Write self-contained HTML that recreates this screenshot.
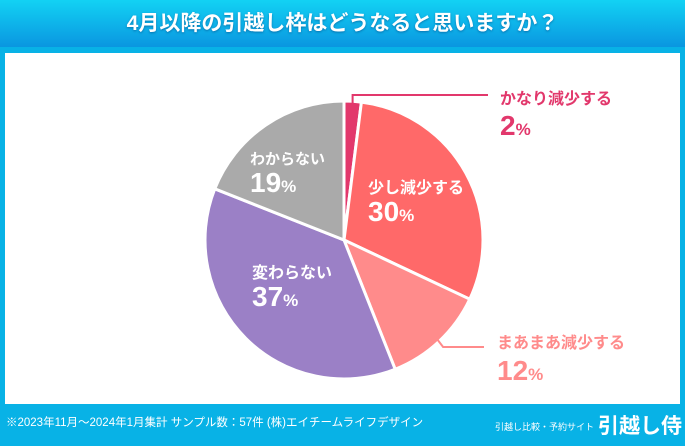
<!DOCTYPE html>
<html><head><meta charset="utf-8"><style>
body{margin:0;width:685px;height:446px;overflow:hidden;background:#08b2e6;font-family:"Liberation Sans","Noto Sans CJK JP",sans-serif;}
#hdr{position:absolute;left:0;top:0;width:685px;height:47px;background:linear-gradient(#12d2f4,#0a96e0);}
#title{position:absolute;left:0;top:7px;width:685px;text-align:center;color:#fff;font-size:21px;font-weight:bold;text-shadow:0 1px 2px rgba(0,60,120,.5);}
#card{position:absolute;left:5px;top:53px;width:675px;height:351px;background:#fff;}
#foot{position:absolute;left:6px;top:414px;color:#fff;font-size:11.5px;}
#brand{position:absolute;left:495px;top:410px;color:#fff;font-size:9px;}
#brand b{font-size:21px;margin-left:4px;vertical-align:-3px;}
svg{position:absolute;left:0;top:0;}
</style></head><body>
<div id="hdr"></div>
<div id="title">4月以降の引越し枠はどうなると思いますか？</div>
<div id="card"></div>
<svg id="chart" width="685" height="446"></svg>
<div id="foot">※2023年11月～2024年1月集計 サンプル数：57件 (株)エイチームライフデザイン</div>
<div id="brand">引越し比較・予約サイト<b>引越し侍</b></div>
<script>
const categories=["かなり減少する","少し減少する","まあまあ減少する","変わらない","わからない"];
const values=[2,30,12,37,19];
const colors=["#e2386c","#ff6969","#ff8b8b","#9b80c6","#aaaaaa"];
const svg=document.getElementById('chart');
const NS="http://www.w3.org/2000/svg";
const cx=344,cy=240,R=139;
const total=values.reduce((a,b)=>a+b,0);
function pt(a,r){return [cx+r*Math.sin(a),cy-r*Math.cos(a)];}
let acc=0;
const mids=[];
values.forEach((v,i)=>{
  const a0=acc/total*2*Math.PI; acc+=v; const a1=acc/total*2*Math.PI;
  const p0=pt(a0,R),p1=pt(a1,R);
  const p=document.createElementNS(NS,'path');
  p.setAttribute('d',`M${cx},${cy}L${p0[0]},${p0[1]}A${R},${R} 0 ${a1-a0>Math.PI?1:0} 1 ${p1[0]},${p1[1]}Z`);
  p.setAttribute('fill',colors[i]);p.setAttribute('stroke','#fff');p.setAttribute('stroke-width','3');
  
  
  svg.appendChild(p);
  mids.push((a0+a1)/2);
});
function txt(x,y,s,size,fill,name){
  const t=document.createElementNS(NS,'text');
  t.setAttribute('x',x);t.setAttribute('y',y);t.setAttribute('font-size',size);t.setAttribute('fill',fill);
  t.setAttribute('font-weight','bold');t.innerHTML=s;
  
  
  svg.appendChild(t);
}
function pct(v){return v+'<tspan font-size="17">%</tspan>';}
const inside={1:[368,193,16],3:[252,278,16],4:[250,164,15]};
Object.keys(inside).forEach(k=>{
  const [x,y,fs]=inside[k];
  txt(x,y,categories[k],fs,'#fff','label-'+k);
  txt(x,y+28,pct(values[k]),28,'#fff','value-'+k);
});
function line(d,c,name){const l=document.createElementNS(NS,'path');l.setAttribute('d',d);l.setAttribute('stroke',c);l.setAttribute('stroke-width','2');l.setAttribute('fill','none');


svg.appendChild(l);}
const q0=pt(mids[0],R-2);
line(`M${q0[0]},${q0[1]}L${q0[0]},95L488,95`,colors[0],'leader-0');
txt(500,104,categories[0],16,colors[0],'label-0');
txt(500,135,pct(values[0]),28,colors[0],'value-0');
const q2=pt(mids[2],R-3);
line(`M${q2[0]},${q2[1]}L${q2[0]+6},347L484,347`,colors[2],'leader-2');
txt(497,348,categories[2],16,colors[2],'label-2');
txt(497,380,pct(values[2]),28,colors[2],'value-2');
</script>
</body></html>
